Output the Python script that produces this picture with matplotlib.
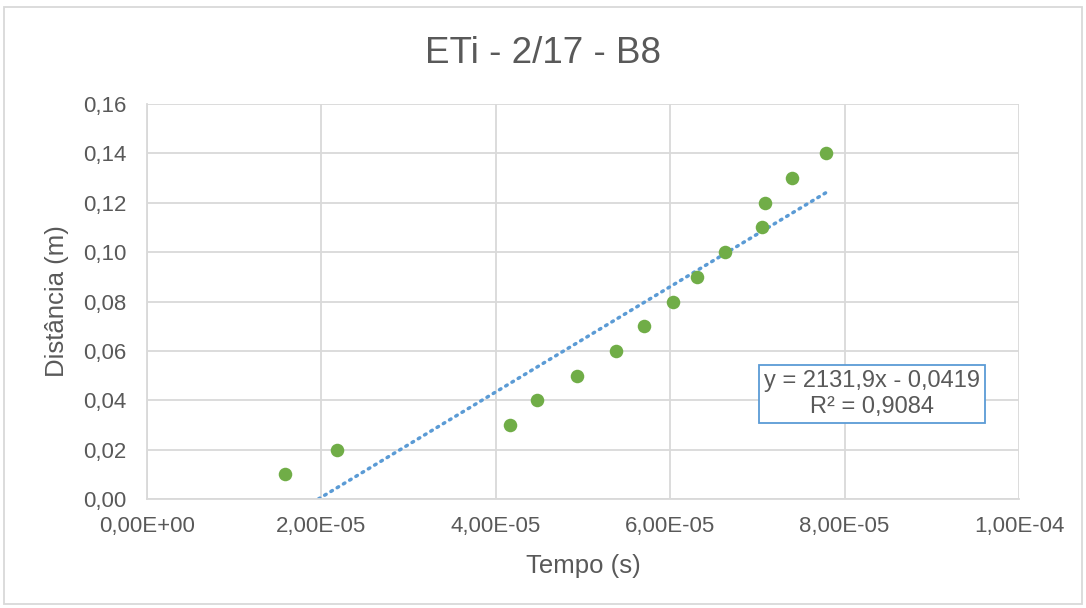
import numpy as np
import matplotlib
matplotlib.use("Agg")
import matplotlib.pyplot as plt
from matplotlib.ticker import FuncFormatter
from matplotlib.patches import Rectangle

plt.rcParams['font.family'] = ['Liberation Sans', 'DejaVu Sans']

# Dados
tempo = [1.58e-5, 2.18e-5, 4.16e-5, 4.47e-5, 4.93e-5, 5.38e-5, 5.70e-5,
         6.03e-5, 6.31e-5, 6.63e-5, 7.05e-5, 7.09e-5, 7.40e-5, 7.79e-5]
distancia = [0.01, 0.02, 0.03, 0.04, 0.05, 0.06, 0.07,
             0.08, 0.09, 0.10, 0.11, 0.12, 0.13, 0.14]

# Linha de tendência (coeficientes indicados no gráfico)
inclinacao = 2131.9
intercepto = -0.0419
r2 = 0.9084

cinza = '#595959'

fig = plt.figure(figsize=(10.86, 6.08), dpi=100)
ax = fig.add_axes([0.1354, 0.1793, 0.8029, 0.6496])

ax.scatter(tempo, distancia, s=95, color='#70ad47', zorder=3, linewidths=0)

x0 = -intercepto / inclinacao
xt = np.array([x0, max(tempo)])
ax.plot(xt, inclinacao * xt + intercepto, color='#5b9bd5', lw=2.5,
        linestyle=(0, (0.5, 1.6)), dash_capstyle='round', zorder=2)

ax.set_xlim(0, 1e-4)
ax.set_ylim(0, 0.16)
ax.set_xticks(np.arange(0, 1.01e-4, 2e-5))
ax.set_yticks(np.arange(0, 0.161, 0.02))


def fmt_x(v, pos):
    s = '%.2E' % v
    return s.replace('.', ',')


def fmt_y(v, pos):
    return ('%.2f' % v).replace('.', ',')


ax.xaxis.set_major_formatter(FuncFormatter(fmt_x))
ax.yaxis.set_major_formatter(FuncFormatter(fmt_y))

ax.grid(True, color='#d9d9d9', lw=1.3)
ax.set_axisbelow(True)
for lado in ['top', 'right']:
    ax.spines[lado].set_visible(False)
for lado in ['left', 'bottom']:
    ax.spines[lado].set_color('#d9d9d9')
    ax.spines[lado].set_linewidth(1.3)
ax.tick_params(length=0, colors=cinza, labelsize=16)
ax.tick_params(axis='x', pad=12)
ax.tick_params(axis='y', pad=15)

ax.set_xlabel('Tempo (s)', fontsize=18.5, color=cinza)
ax.xaxis.set_label_coords(0.5, -0.17)
ax.xaxis.label.set_va('center')
ax.set_ylabel('Distância (m)', fontsize=18.5, color=cinza)
ax.yaxis.set_label_coords(-0.103, 0.5)
ax.yaxis.label.set_va('center')

fig.text(0.5, 0.897, 'ETi - 2/17 - B8', fontsize=26.5, color=cinza,
         ha='center', va='baseline')

ax.text(0.8314, 0.266, 'y = 2131,9x - 0,0419\nR² = 0,9084',
        transform=ax.transAxes, ha='center', va='center', fontsize=17,
        color=cinza, linespacing=1.25,
        bbox=dict(boxstyle='square,pad=0.2', fc='white', ec='#5b9bd5', lw=1.3))

# moldura do gráfico
fig.patches.append(Rectangle((0.004, 0.006), 0.992, 0.982, transform=fig.transFigure,
                             fill=False, ec='#d9d9d9', lw=1.3))

fig.savefig('out.png', dpi=100)
